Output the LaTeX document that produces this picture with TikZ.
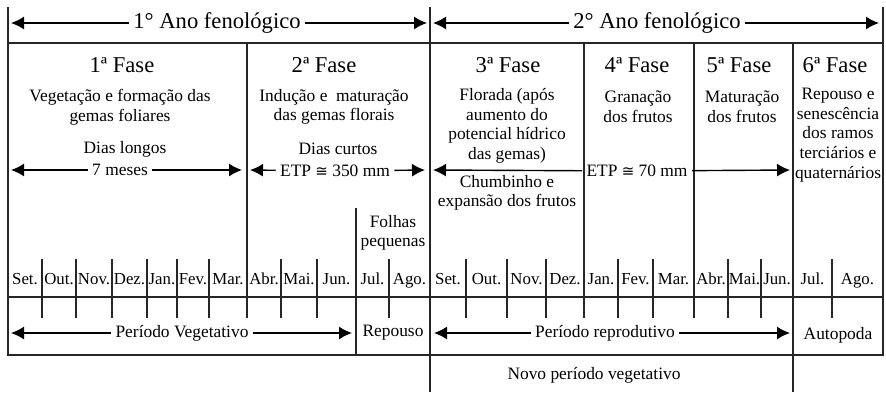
\documentclass[tikz,border=0pt]{standalone}
\usepackage{fontspec}
\setmainfont{Liberation Serif}
\newfontfamily\congfont{DejaVu Sans}
\usetikzlibrary{arrows.meta, positioning}
\newcommand{\bodyfont}{\fontsize{8.7}{9.8}\selectfont}
\newcommand{\ttlfont}{\fontsize{11.3}{13}\selectfont}
\newcommand{\etpcong}{{\congfont\fontsize{7.5}{9}\selectfont ≅}}
\tikzset{
	rule/.style={line width=0.6pt, black!85},
	span/.style={line width=0.7pt, -{Latex[length=6.5pt,width=6.5pt]}},
	txt/.style={inner xsep=2pt, inner ysep=1pt, align=center, font=\bodyfont},
	ttl/.style={inner sep=2pt, font=\ttlfont},
	mon/.style={inner sep=1pt, text height=1.6ex, text depth=0.4ex, font=\fontsize{8.4}{10}\selectfont}
}
\begin{document}
\begin{tikzpicture}[x=0.5pt, y=-0.5pt]
	\useasboundingbox (0,0) rectangle (886,392);

	\draw[rule] (8,7) -- (8,355) -- (883,355) -- (883,7);
	\draw[rule] (8,43) -- (883,43);
	\draw[rule] (8,297) -- (883,297);
	\draw[rule] (430,7) -- (430,392);
	\draw[rule] (793,43) -- (793,392);
	\draw[rule] (356,208) -- (356,355);
	\foreach \x in {247,584,694}
		\draw[rule] (\x,43) -- (\x,318);
	\foreach \x in {42,76,112,147,177,209,281,317,389,466,507,546,618,653,728,761,832}
		\draw[rule] (\x,259) -- (\x,318);

	\draw (217,23) node[ttl] (ano1) {1° Ano fenológico}
		(657,23) node[ttl] (ano2) {2° Ano fenológico}
		(122,65) node[ttl] (fase1) {1ª Fase}
		(324,65) node[ttl] (fase2) {2ª Fase}
		(508,65) node[ttl] (fase3) {3ª Fase}
		(637,65) node[ttl] (fase4) {4ª Fase}
		(739,65) node[ttl] (fase5) {5ª Fase}
		(835,65) node[ttl] (fase6) {6ª Fase}
		(120,107) node[txt] (desc1) {Vegetação e formação das\\gemas foliares}
		(334,107) node[txt] (desc2) {Indução e \ maturação\\das gemas florais}
		(507,126) node[txt] (desc3) {Florada (após\\aumento do\\potencial hídrico\\das gemas)}
		(638,107) node[txt] (desc4) {Granação\\dos frutos}
		(742,107) node[txt] (desc5) {Maturação\\dos frutos}
		(838,135) node[txt] (desc6) {Repouso e\\senescência\\dos ramos\\terciários e\\quaternários}
		(125,149) node[txt] (dias1) {Dias longos}
		(338,149) node[txt] (dias2) {Dias curtos}
		(120,170) node[txt] (meses) {7 meses}
		(335,171) node[txt] (etp1) {ETP \etpcong{} 350 mm}
		(637,171) node[txt] (etp2) {ETP \etpcong{} 70 mm}
		(507,193) node[txt] (chumb) {Chumbinho e\\expansão dos frutos}
		(393,233) node[txt] (folhas) {Folhas\\pequenas}
		(182,333) node[txt] (pveg) {Período Vegetativo}
		(393,333) node[txt] (repouso) {Repouso}
		(605,333) node[txt] (prep) {Período reprodutivo}
		(838,335) node[txt] (autop) {Autopoda}
		(594,375) node[txt] (novo) {Novo período vegetativo};

	\foreach \a/\b/\m [count=\i] in {8/42/Set., 42/76/Out., 76/112/Nov., 112/147/Dez., 147/177/Jan., 177/209/Fev., 209/247/Mar., 247/281/Abr., 281/317/Mai., 317/356/Jun., 356/389/Jul., 389/430/Ago., 430/466/Set., 466/507/Out., 507/546/Nov., 546/584/Dez., 584/618/Jan., 618/653/Fev., 653/694/Mar., 694/728/Abr., 728/761/Mai., 761/793/Jun., 793/832/Jul., 832/883/Ago.}
		\node[mon] (m\i) at ({(\a+\b)/2},279) {\m};

	\coordinate (a1l) at (11,23);
	\coordinate (a1r) at (427,23);
	\coordinate (a2l) at (433,23);
	\coordinate (a2r) at (879,23);
	\coordinate (s1l) at (11,170);
	\coordinate (s1r) at (242,170);
	\coordinate (s2l) at (250,170);
	\coordinate (s2r) at (425,170);
	\coordinate (s3l) at (433,170);
	\coordinate (s3r) at (790,170);
	\coordinate (p1l) at (11,333);
	\coordinate (p1r) at (352,333);
	\coordinate (p2l) at (434,333);
	\coordinate (p2r) at (790,333);

	\draw[span] (ano1) -- (a1l);
	\draw[span] (ano1) -- (a1r);
	\draw[span] (ano2) -- (a2l);
	\draw[span] (ano2) -- (a2r);
	\draw[span] (meses) -- (s1l);
	\draw[span] (meses) -- (s1r);
	\draw[span] (etp1) -- (s2l);
	\draw[span] (etp1) -- (s2r);
	\draw[span] (etp2) -- (s3l);
	\draw[span] (etp2) -- (s3r);
	\draw[span] (pveg) -- (p1l);
	\draw[span] (pveg) -- (p1r);
	\draw[span] (prep) -- (p2l);
	\draw[span] (prep) -- (p2r);
\end{tikzpicture}
\end{document}
